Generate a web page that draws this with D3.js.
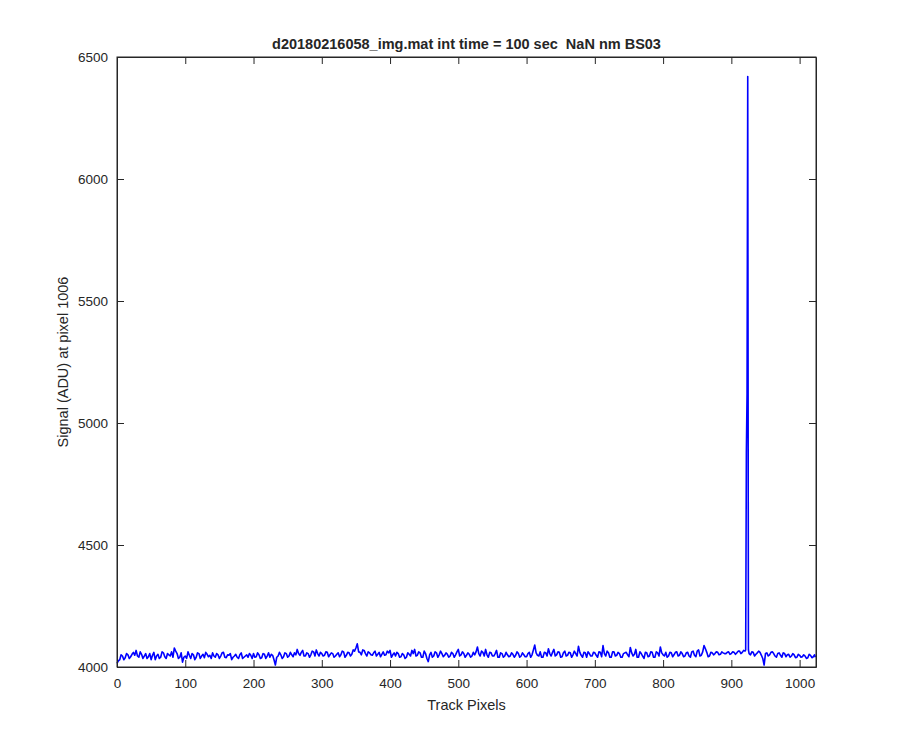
<!DOCTYPE html>
<html>
<head>
<meta charset="utf-8">
<style>
  body { margin:0; background:#fff; }
  text { font-family: "Liberation Sans", Arial, Helvetica, sans-serif; fill:#262626; }
</style>
</head>
<body>
<div class="plot"></div>
<script src="https://d3js.org/d3.v7.min.js"></script>
<script>
const basePixels = d3.range(0, 1024, 4);
const baseSignal = [
  4015,4030,4045,4038,4050,4042,4060,4068,4040,4052,4045,4035,4055,4048,4030,4052,4040,4058,4035,4050,4062,4078,4055,4040,4020,
  4045,4062,4035,4050,4040,4055,4045,4038,4052,4048,4058,4040,4050,4045,4060,4038,4048,4030,4045,4040,4050,4035,4045,4040,4048,
  4055,4042,4050,4038,4052,4045,4040,4048,4008,4045,4050,4042,4055,4045,4050,4058,4072,4048,4068,4045,4055,4050,4062,4070,4045,
  4055,4048,4060,4050,4055,4045,4058,4050,4062,4048,4058,4052,4065,4095,4060,4070,4055,4062,4050,4058,4045,4060,4052,4048,4065,
  4068,4050,4045,4055,4042,4050,4040,4052,4068,4072,4048,4058,4040,4055,4022,4060,4045,4058,4050,4055,4048,4052,4045,4055,4050,
  4072,4050,4055,4048,4052,4045,4050,4082,4045,4060,4072,4040,4058,4045,4068,4040,4055,4045,4050,4045,4052,4048,4055,4045,4050,
  4042,4060,4050,4090,4048,4062,4040,4058,4075,4045,4072,4050,4060,4042,4065,4048,4058,4050,4055,4085,4048,4060,4040,4055,4045,
  4058,4040,4060,4088,4045,4058,4040,4062,4048,4055,4040,4058,4050,4080,4045,4072,4040,4055,4035,4058,4045,4060,4040,4058,4082,
  4050,4060,4045,4058,4050,4062,4048,4055,4045,4060,4040,4065,4042,4070,4048,4088,4060,4045,4058,4055,4060,4052,4058,4055,4062,
  4055,4060,4058,4065,4060,4065,6420,4050,4060,4052,4065,4048,4008,4058,4050,4062,4045,4055,4048,4058,4042,4052,4045,4050,4040,
  4048,4042,4045,4038,4048,4042
];
// in-between samples, every 4 track pixels starting at 2
const midPixels = d3.range(2, 1024, 4);
const midSignal = [
  4025,4050,4030,4055,4035,4052,4048,4045,4062,4035,4055,4042,4030,4060,4045,4035,4062,4042,4055,4045,4040,4065,4035,4058,4040,
  4035,4048,4055,4030,4058,4035,4052,4060,4042,4035,4045,4055,4035,4058,4040,4050,4055,4040,4052,4035,4058,4040,4050,4055,4035,
  4040,4058,4035,4055,4035,4058,4052,4030,4040,4060,4035,4058,4040,4060,4042,4050,4055,4060,4045,4058,4040,4065,4045,4055,4060,
  4045,4062,4042,4058,4040,4052,4042,4065,4040,4060,4045,4070,4078,4062,4050,4068,4045,4058,4048,4065,4052,4042,4062,4050,4058,
  4040,4058,4060,4040,4055,4035,4058,4045,4055,4045,4062,4040,4065,4035,4050,4040,4062,4040,4065,4042,4058,4040,4060,4040,4062,
  4045,4062,4040,4058,4040,4060,4062,4055,4065,4045,4050,4060,4045,4055,4040,4058,4040,4060,4042,4058,4040,4062,4040,4058,4042,
  4055,4040,4070,4058,4045,4040,4060,4045,4055,4060,4045,4062,4040,4058,4045,4060,4040,4065,4045,4060,4040,4058,4062,4045,4060,
  4048,4062,4042,4055,4065,4040,4062,4045,4060,4040,4055,4060,4042,4058,4052,4040,4062,4045,4060,4042,4062,4040,4062,4045,4058,
  4045,4040,4060,4042,4060,4045,4062,4042,4058,4045,4062,4048,4065,4045,4062,4075,4042,4060,4050,4062,4050,4062,4055,4060,4052,
  4062,4052,4065,4055,4068,4880,4055,4062,4045,4058,4060,4035,4055,4045,4060,4055,4040,4058,4040,4055,4050,4040,4055,4038,4052,
  4040,4050,4035,4052,4038,4050
];
// extra samples around the spike and at the end
const spikePixels = [921, 923, 925, 1023];
const spikeSignal = [4070, 5120, 4070, 4040];

const xTicks = d3.range(0, 1001, 100);
const yTicks = d3.range(4000, 6501, 500);
const title = "d20180216058_img.mat int time = 100 sec  NaN nm BS03";
const xLabel = "Track Pixels";
const yLabel = "Signal (ADU) at pixel 1006";

const points = basePixels.map((p, i) => [p, baseSignal[i]])
  .concat(midPixels.map((p, i) => [p, midSignal[i]]))
  .concat(spikePixels.map((p, i) => [p, spikeSignal[i]]))
  .sort((a, b) => a[0] - b[0]);

const width = 900, height = 750;
const margin = {left: 117, right: 84, top: 57, bottom: 83};

const x = d3.scaleLinear().domain([0, 1024]).range([margin.left, width - margin.right]);
const y = d3.scaleLinear().domain([4000, 6500]).range([height - margin.bottom, margin.top]);

const svg = d3.select(".plot").append("svg")
  .attr("width", width).attr("height", height);

const line = d3.line().x(d => x(d[0])).y(d => y(d[1]));

svg.append("path")
  .datum(points)
  .attr("d", line)
  .attr("fill", "none")
  .attr("stroke", "#0000ff")
  .attr("stroke-width", 1.6)
  .attr("stroke-linejoin", "round");

// axes, MATLAB style: ticks inside, box all round
const tick = 7;
const fmt = d3.format("d");
const xb = d3.axisBottom(x).tickValues(xTicks).tickFormat(fmt).tickSizeInner(-tick).tickSizeOuter(0).tickPadding(11);
const xt = d3.axisTop(x).tickValues(xTicks).tickSizeInner(-tick).tickSizeOuter(0).tickFormat("");
const yl = d3.axisLeft(y).tickValues(yTicks).tickFormat(fmt).tickSizeInner(-tick).tickSizeOuter(0).tickPadding(9);
const yr = d3.axisRight(y).tickValues(yTicks).tickSizeInner(-tick).tickSizeOuter(0).tickFormat("");

svg.append("g").attr("transform", `translate(0,${height - margin.bottom})`).call(xb);
svg.append("g").attr("transform", `translate(0,${margin.top})`).call(xt);
svg.append("g").attr("transform", `translate(${margin.left},0)`).call(yl);
svg.append("g").attr("transform", `translate(${width - margin.right},0)`).call(yr);

svg.selectAll(".domain").attr("stroke", "#262626").attr("stroke-width", 1);
svg.selectAll(".tick line").attr("stroke", "#262626");
svg.selectAll(".tick text").style("font-size", "13.5px").attr("fill", "#262626");

svg.append("rect")
  .attr("x", margin.left).attr("y", margin.top)
  .attr("width", width - margin.left - margin.right)
  .attr("height", height - margin.top - margin.bottom)
  .attr("fill", "none").attr("stroke", "#262626");

svg.append("text")
  .attr("x", (margin.left + width - margin.right) / 2)
  .attr("y", 49)
  .attr("text-anchor", "middle")
  .style("font-size", "14.5px").style("font-weight", "bold").style("white-space", "pre")
  .attr("fill", "#000")
  .text(title);

svg.append("text")
  .attr("x", (margin.left + width - margin.right) / 2)
  .attr("y", 710)
  .attr("text-anchor", "middle")
  .style("font-size", "14.5px")
  .text(xLabel);

svg.append("text")
  .attr("transform", `translate(68,${(margin.top + height - margin.bottom) / 2}) rotate(-90)`)
  .attr("text-anchor", "middle")
  .style("font-size", "14.5px")
  .text(yLabel);
</script>
</body>
</html>
